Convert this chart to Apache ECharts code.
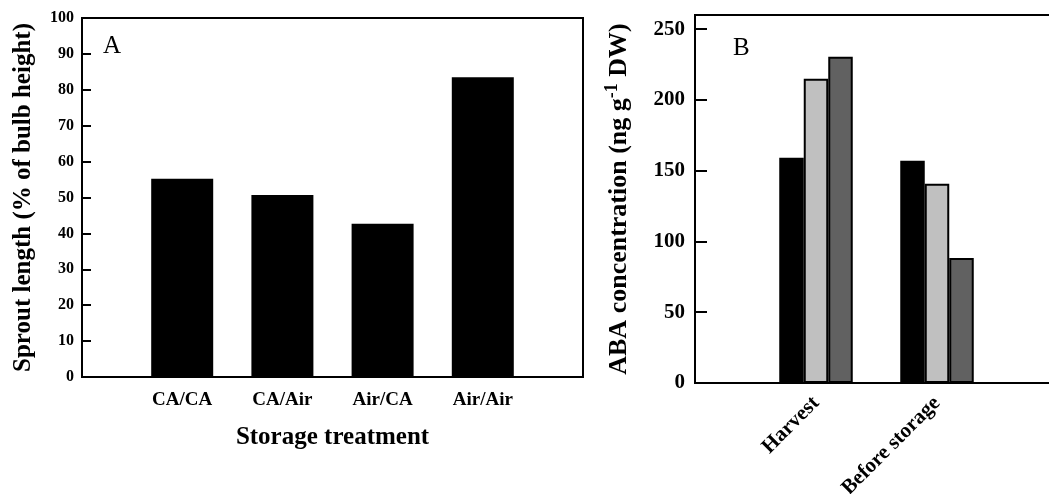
<!DOCTYPE html>
<html>
<head>
<meta charset="utf-8">
<script src="https://cdn.jsdelivr.net/npm/echarts@6/dist/echarts.min.js"></script>
<style>
  html, body { margin: 0; padding: 0; background: #fff; }
  #chart { width: 1049px; height: 494px; }
</style>
</head>
<body>
<div id="chart"></div>
<script>
// panel A: sprout length
var catsA = ['CA/CA', 'CA/Air', 'Air/CA', 'Air/Air'];
var sproutA = [55.2, 50.7, 42.7, 83.5];

// panel B: ABA concentration, three series per group
var catsB = ['Harvest', 'Before storage'];
var abaBlack = [159.1, 157.0];
var abaLight = [215.0, 140.7];
var abaDark = [230.5, 88.4];

var FONT = 'Liberation Serif';

// empty slot either side so the bars sit at 1..n on a 0..n+1 axis
function pad(arr) { return ['-'].concat(arr, ['-']); }
function padCats(arr) { return [''].concat(arr, ['']); }

var myChart = echarts.init(document.getElementById('chart'));

var option = {
  animation: false,
  backgroundColor: '#fff',
  title: [
    { text: 'A', left: 103, top: 34, padding: 0,
      textStyle: { fontFamily: FONT, fontWeight: 'normal', fontSize: 25, color: '#000' } },
    { text: 'B', left: 733, top: 36, padding: 0,
      textStyle: { fontFamily: FONT, fontWeight: 'normal', fontSize: 25, color: '#000' } }
  ],
  grid: [
    { left: 82, top: 18, width: 501, height: 359, outerBoundsMode: 'none',
      show: true, borderColor: '#000', borderWidth: 2 },
    { left: 695, top: 15, width: 363, height: 368, outerBoundsMode: 'none',
      show: true, borderColor: '#000', borderWidth: 2 }
  ],
  xAxis: [
    {
      gridIndex: 0,
      type: 'category',
      data: padCats(catsA),
      boundaryGap: false,
      axisLine: { lineStyle: { color: '#000', width: 2 } },
      axisTick: { show: false },
      axisLabel: { interval: 0, margin: 14, color: '#000', fontFamily: FONT, fontWeight: 'bold', fontSize: 19 },
      name: 'Storage treatment',
      nameLocation: 'middle',
      nameGap: 48,
      nameTextStyle: { color: '#000', fontFamily: FONT, fontWeight: 'bold', fontSize: 25 }
    },
    {
      gridIndex: 1,
      type: 'category',
      data: padCats(catsB),
      boundaryGap: false,
      axisLine: { lineStyle: { color: '#000', width: 2 } },
      axisTick: { show: false },
      axisLabel: { interval: 0, rotate: 45, margin: 17, color: '#000', fontFamily: FONT, fontWeight: 'bold', fontSize: 21 }
    }
  ],
  yAxis: [
    {
      gridIndex: 0,
      type: 'value',
      min: 0,
      max: 100,
      interval: 10,
      splitLine: { show: false },
      axisLine: { show: true, lineStyle: { color: '#000', width: 2 } },
      axisTick: { show: true, inside: true, length: 9, lineStyle: { color: '#000', width: 2 } },
      axisLabel: { margin: 8, color: '#000', fontFamily: FONT, fontWeight: 'bold', fontSize: 16 },
      name: 'Sprout length (% of bulb height)',
      nameLocation: 'middle',
      nameGap: 46,
      nameTextStyle: { color: '#000', fontFamily: FONT, fontWeight: 'bold', fontSize: 25 }
    },
    {
      gridIndex: 1,
      type: 'value',
      min: 0,
      max: 260,
      interval: 50,
      splitLine: { show: false },
      axisLine: { show: true, lineStyle: { color: '#000', width: 2 } },
      axisTick: { show: true, inside: true, length: 12, lineStyle: { color: '#000', width: 2 } },
      axisLabel: { margin: 10, showMaxLabel: false, color: '#000', fontFamily: FONT, fontWeight: 'bold', fontSize: 21 },
      name: '{m|ABA concentration (ng g}{s|-1}{m| DW)}',
      nameLocation: 'middle',
      nameGap: 60,
      nameTextStyle: {
        color: '#000',
        rich: {
          m: { fontFamily: FONT, fontWeight: 'bold', fontSize: 26, color: '#000', lineHeight: 32 },
          s: { fontFamily: FONT, fontWeight: 'bold', fontSize: 18, color: '#000', verticalAlign: 'top', lineHeight: 18 }
        }
      }
    }
  ],
  series: [
    {
      type: 'bar',
      xAxisIndex: 0,
      yAxisIndex: 0,
      data: pad(sproutA),
      barWidth: 62,
      itemStyle: { color: '#000' }
    },
    {
      type: 'bar',
      xAxisIndex: 1,
      yAxisIndex: 1,
      data: pad(abaBlack),
      barWidth: 24.5,
      barGap: '0%',
      itemStyle: { color: '#000', borderColor: '#000', borderWidth: 2 }
    },
    {
      type: 'bar',
      xAxisIndex: 1,
      yAxisIndex: 1,
      data: pad(abaLight),
      barWidth: 24.5,
      barGap: '0%',
      itemStyle: { color: '#c0c0c0', borderColor: '#000', borderWidth: 2 }
    },
    {
      type: 'bar',
      xAxisIndex: 1,
      yAxisIndex: 1,
      data: pad(abaDark),
      barWidth: 24.5,
      barGap: '0%',
      itemStyle: { color: '#616161', borderColor: '#000', borderWidth: 2 }
    }
  ]
};

myChart.setOption(option);
</script>
</body>
</html>
